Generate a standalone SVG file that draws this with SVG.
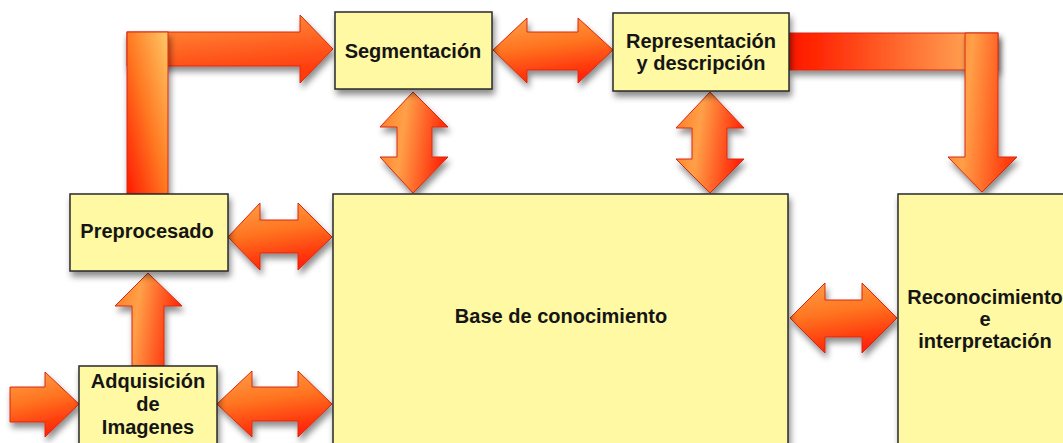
<svg xmlns="http://www.w3.org/2000/svg" width="1063" height="443" viewBox="0 0 1063 443">
<defs>
<filter id="sh" x="-20%" y="-20%" width="140%" height="150%">
<feDropShadow dx="2" dy="5" stdDeviation="3" flood-color="#000" flood-opacity="0.45"/>
</filter>
<linearGradient id="gH" x1="0" y1="0" x2="0.25" y2="1">
<stop offset="0" stop-color="#FFA04A"/>
<stop offset="0.5" stop-color="#FF7420"/>
<stop offset="1" stop-color="#FF2808"/>
</linearGradient>
<linearGradient id="gV" x1="0" y1="0" x2="1" y2="0.2">
<stop offset="0" stop-color="#FF7A26"/>
<stop offset="0.4" stop-color="#FFA048"/>
<stop offset="1" stop-color="#FF2808"/>
</linearGradient>
<linearGradient id="gL1v" x1="1" y1="0" x2="0" y2="1">
<stop offset="0" stop-color="#FFC868"/>
<stop offset="0.5" stop-color="#FF7A22"/>
<stop offset="1" stop-color="#FF1800"/>
</linearGradient>
<linearGradient id="gL1h" x1="0" y1="0" x2="0.3" y2="1">
<stop offset="0" stop-color="#FF9A40"/>
<stop offset="1" stop-color="#FF3A0C"/>
</linearGradient>
<linearGradient id="gL2h" x1="0" y1="0" x2="1" y2="0">
<stop offset="0" stop-color="#FF1800"/>
<stop offset="0.15" stop-color="#FF2A06"/>
<stop offset="1" stop-color="#FFB860"/>
</linearGradient>
<linearGradient id="gL2v" x1="0" y1="0" x2="1" y2="0.2">
<stop offset="0" stop-color="#FF7A26"/>
<stop offset="0.35" stop-color="#FFA048"/>
<stop offset="1" stop-color="#FF3A0C"/>
</linearGradient>
<style>
.ar{stroke:#D8280E;stroke-width:1;stroke-linejoin:miter;filter:url(#sh)}
.bx{fill:#FEF9A2;stroke:#2A2A2A;stroke-width:1.5;filter:url(#sh)}
.t{font-family:"Liberation Sans",Arial,sans-serif;font-weight:bold;font-size:20px;fill:#151515;text-anchor:middle}
</style>
</defs>
<rect width="1063" height="443" fill="#FFFFFF"/>
<g id="connectors">
<polygon class="ar" fill="url(#gH)" points="10,387 45,387 45,372 79,404 45,437 45,422 10,422"/>
<polygon class="ar" fill="url(#gH)" points="217,404 252,371 252,387 298,387 298,371 332,404 298,437 298,421 252,421 252,437"/>
<polygon class="ar" fill="url(#gH)" points="228,237 260,203 260,220 298,220 298,203 332,237 298,270 298,253 260,253 260,270"/>
<polygon class="ar" fill="url(#gV)" points="132,366 132,306 115,306 148,273 182,306 164,306 164,366"/>
<polygon class="ar" fill="url(#gL1h)" points="127,32 300,32 300,15 333,49 300,83 300,66 127,66"/>
<rect class="ar" fill="url(#gL1v)" x="127" y="32" width="41" height="162"/>
<polygon class="ar" fill="url(#gH)" points="493,50 527,18 527,32 578,32 578,18 613,50 578,83 578,70 527,70 527,83"/>
<polygon class="ar" fill="url(#gV)" points="413,92 448,127 432,127 432,157 448,157 413,193 380,157 397,157 397,127 380,127"/>
<polygon class="ar" fill="url(#gV)" points="710,92 744,128 727,128 727,159 744,159 710,193 676,159 692,159 692,128 676,128"/>
<rect class="ar" fill="url(#gL2h)" x="789" y="33" width="209" height="37"/>
<polygon class="ar" fill="url(#gL2v)" points="965,33 998,33 998,157 1017,157 982,192 948,157 965,157"/>
<polygon class="ar" fill="url(#gH)" points="790,318 825,283 825,300 862,300 862,283 897,318 862,353 862,337 825,337 825,353"/>
</g>
<g id="segmentacion">
<rect class="bx" x="335" y="12" width="157" height="77"/>
<text class="t" x="413" y="58">Segmentación</text>
</g>
<g id="representacion">
<rect class="bx" x="613" y="13" width="176" height="78"/>
<text class="t" x="701" y="48">Representación</text>
<text class="t" x="701" y="70">y descripción</text>
</g>
<g id="preprocesado">
<rect class="bx" x="70" y="194" width="158" height="77"/>
<text class="t" x="147" y="238">Preprocesado</text>
</g>
<g id="adquisicion">
<rect class="bx" x="79" y="366" width="138" height="95"/>
<text class="t" x="148" y="388">Adquisición</text>
<text class="t" x="148" y="411">de</text>
<text class="t" x="148" y="434">Imagenes</text>
</g>
<g id="base">
<rect class="bx" x="333" y="194" width="455" height="265"/>
<text class="t" x="561" y="323">Base de conocimiento</text>
</g>
<g id="reconocimiento">
<rect class="bx" x="898" y="194" width="185" height="265"/>
<text class="t" x="985" y="304">Reconocimiento</text>
<text class="t" x="985" y="326">e</text>
<text class="t" x="985" y="348">interpretación</text>
</g>
</svg>
